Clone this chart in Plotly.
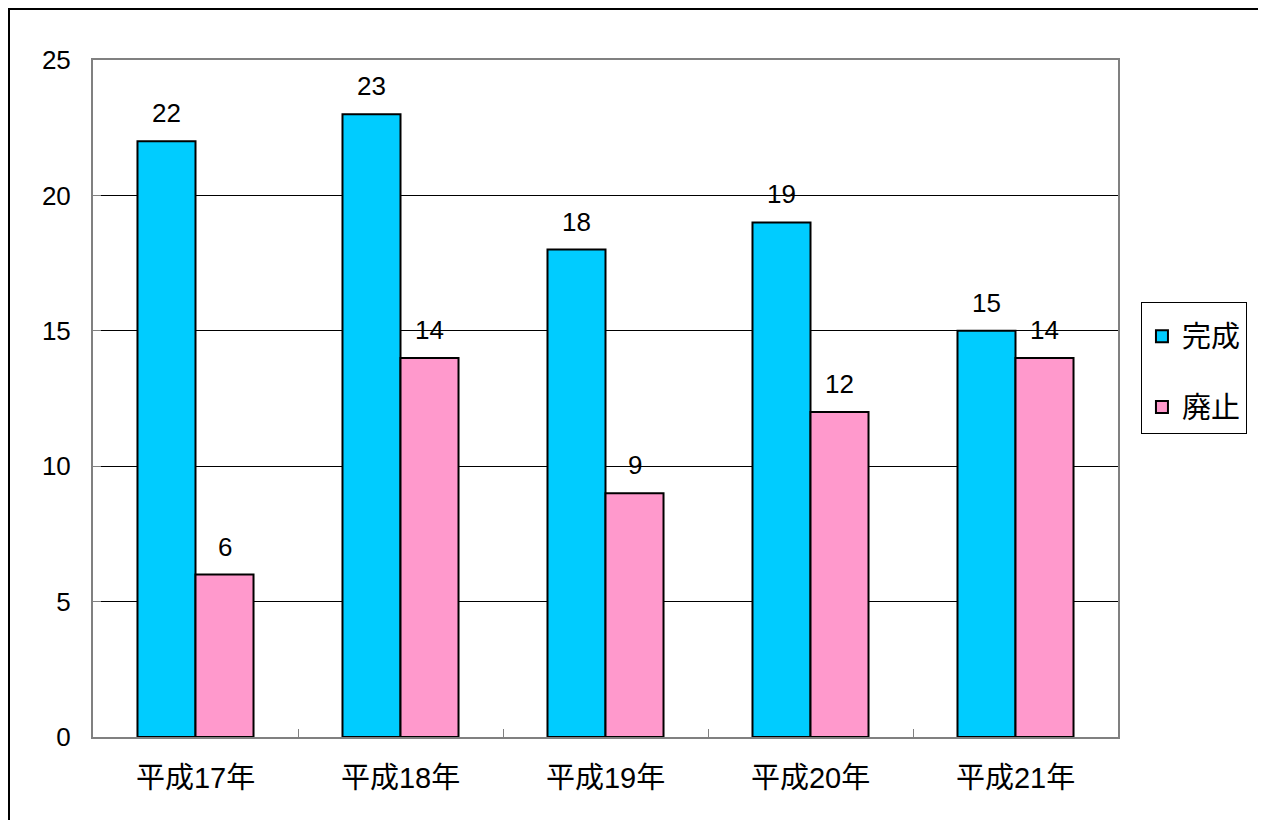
import plotly.graph_objects as go

categories = ["平成17年", "平成18年", "平成19年", "平成20年", "平成21年"]
kansei = [22, 23, 18, 19, 15]
haishi = [6, 14, 9, 12, 14]
series_names = ["完成", "廃止"]
colors = ["#00CCFF", "#FF99CC"]
y_ticks = [0, 5, 10, 15, 20, 25]

FONT = "Liberation Sans, Arial, Noto Sans CJK JP"
FS = 26

fig = go.Figure()
for i, (name, vals, col) in enumerate(zip(series_names, [kansei, haishi], colors)):
    fig.add_trace(go.Bar(
        x=categories, y=vals, name=name, legendgroup=name,
        marker=dict(color=col, line=dict(color="black", width=2)),
    ))
    for c, v in zip(categories, vals):
        fig.add_annotation(x=c, y=v, text=str(v), showarrow=False,
                           xshift=(-29 if i == 0 else 29), yshift=11,
                           yanchor="bottom",
                           font=dict(size=FS, color="black", family=FONT))

W, H = 1258, 812
fig.update_layout(
    width=W, height=H,
    margin=dict(l=85, r=148, t=52, b=83),
    paper_bgcolor="white", plot_bgcolor="white",
    barmode="group", bargap=0.434, bargroupgap=0,
    font=dict(family=FONT, size=FS, color="black"),
    legend=dict(x=1.0224, y=0.6425, xanchor="left", yanchor="top",
                bordercolor="black", borderwidth=1, bgcolor="white",
                font=dict(size=29), tracegroupgap=30, traceorder="grouped",
                title=dict(text=" ", font=dict(size=6)),
                itemwidth=30),
    showlegend=True,
)
fig.update_xaxes(showline=True, linecolor="#808080", linewidth=2, mirror=True,
                 ticks="inside", tickson="boundaries", ticklen=8, tickcolor="#808080",
                 showgrid=False, ticklabelstandoff=14,
                 tickfont=dict(size=29))
fig.update_yaxes(range=[0, 25], tickvals=y_ticks, showline=True, linecolor="#808080",
                 linewidth=2, mirror=True, showgrid=True, gridcolor="black", gridwidth=1,
                 ticks="inside", ticklen=8, tickcolor="#808080", ticklabelstandoff=15,
                 zeroline=False, tickfont=dict(size=FS))

# outer frame, in paper units of the plot area (1025 x 677 px)
pw, ph = 1025, 677
x0 = (-84) / pw
x1 = (1256 - 85) / pw
y1 = (677 + 51) / ph
y0 = (-100) / ph
fig.add_shape(type="rect", xref="paper", yref="paper", x0=x0, x1=x1, y0=y0, y1=y1,
              line=dict(color="black", width=2), layer="below")

fig.write_html("out.html")
